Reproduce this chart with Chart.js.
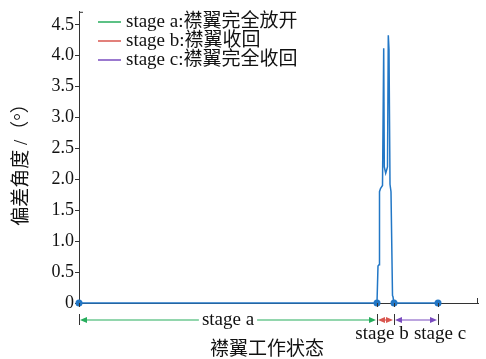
<!DOCTYPE html>
<html>
<head>
<meta charset="utf-8">
<script src="https://cdn.jsdelivr.net/npm/chart.js@4/dist/chart.umd.min.js"></script>
<style>
  body { margin: 0; background: #fff; }
  canvas { display: block; }
</style>
</head>
<body>
<canvas id="flapChart" width="486" height="359"></canvas>
<script>
// Data
const stageNames = ['stage a', 'stage b', 'stage c'];
const stageLegend = ['stage a:襟翼完全放开', 'stage b:襟翼收回', 'stage c:襟翼完全收回'];
const stageColors = ['#26ad5c', '#d9564f', '#7a4cbf'];
const stageBounds = [0, 298, 315, 359];
const timeValues  = [0, 298, 299, 300, 300.5, 301.5, 303.5, 304.7, 305.3, 306.7, 308.5, 309.3, 310, 311, 312, 313.5, 314, 315, 359];
const angleValues = [0, 0,   0.6, 0.62, 1.8, 1.85, 1.9,  4.12,  2.2,   2.1,   2.2,   4.33,  4.1, 1.92, 1.8, 0.12,  0.1, 0,   0];
const yTicks = [0, 0.5, 1.0, 1.5, 2.0, 2.5, 3.0, 3.5, 4.0, 4.5];

const serif = "'Liberation Serif', 'Noto Sans CJK SC', serif";
const blue = '#2277c6';
const axisColor = '#333';

const points = timeValues.map((t, i) => ({ x: t, y: angleValues[i] }));
const radii = timeValues.map(t => stageBounds.includes(t) ? 3.5 : 0);

// Extra drawing: axis end caps, stage arrows, legend, titles
const extras = {
  id: 'extras',
  afterDraw(chart) {
    const c = chart.ctx;
    const xs = chart.scales.x;
    const area = chart.chartArea;
    c.save();
    c.strokeStyle = axisColor;
    c.lineWidth = 1;
    // top cap of y axis, right cap of x axis
    c.beginPath();
    c.moveTo(area.left, area.top + 0.5); c.lineTo(area.left + 4, area.top + 0.5);
    c.moveTo(area.right - 0.5, area.bottom); c.lineTo(area.right - 0.5, area.bottom - 5);
    c.stroke();
    // x ticks at stage bounds
    c.beginPath();
    stageBounds.forEach(b => {
      const px = Math.round(xs.getPixelForValue(b)) + 0.5;
      c.moveTo(px, area.bottom); c.lineTo(px, area.bottom + 4);
      c.moveTo(px, 314); c.lineTo(px, 325);
    });
    c.stroke();

    // stage arrows
    const ay = 320;
    c.font = '19px ' + serif;
    c.textBaseline = 'middle';
    c.textAlign = 'center';
    for (let i = 0; i < 3; i++) {
      const x0 = xs.getPixelForValue(stageBounds[i]) + 1;
      const x1 = xs.getPixelForValue(stageBounds[i + 1]) - 1;
      c.strokeStyle = stageColors[i];
      c.fillStyle = stageColors[i];
      c.lineWidth = 1.2;
      c.beginPath();
      if (i === 0) {
        const mid = (x0 + x1) / 2;
        const half = c.measureText(stageNames[0]).width / 2 + 3;
        c.moveTo(x0 + 4, ay); c.lineTo(mid - half, ay);
        c.moveTo(mid + half, ay); c.lineTo(x1 - 4, ay);
      } else {
        c.moveTo(x0 + 4, ay); c.lineTo(x1 - 4, ay);
      }
      c.stroke();
      c.beginPath();
      c.moveTo(x0, ay); c.lineTo(x0 + 7, ay - 3); c.lineTo(x0 + 7, ay + 3); c.closePath();
      c.moveTo(x1, ay); c.lineTo(x1 - 7, ay - 3); c.lineTo(x1 - 7, ay + 3); c.closePath();
      c.fill();
    }
    c.fillStyle = '#111';
    c.fillText(stageNames[0], (xs.getPixelForValue(stageBounds[0]) + xs.getPixelForValue(stageBounds[1])) / 2, ay);
    c.fillText(stageNames[1], 382, 334);
    c.fillText(stageNames[2], 440, 334);

    // x title
    c.font = '19px ' + serif;
    c.fillText('襟翼工作状态', 267, 350);

    // y title
    c.save();
    c.translate(22, 160);
    c.rotate(-Math.PI / 2);
    c.fillText('偏差角度 /（°）', 0, 0);
    c.restore();

    // legend
    c.font = '19px ' + serif;
    c.textAlign = 'left';
    const rows = [22, 41, 60];
    stageLegend.forEach((txt, i) => {
      c.strokeStyle = stageColors[i];
      c.lineWidth = 1.5;
      c.beginPath();
      c.moveTo(98, rows[i]); c.lineTo(121, rows[i]);
      c.stroke();
      c.fillStyle = '#111';
      c.fillText(txt, 126, rows[i]);
    });
    c.restore();
  }
};

new Chart(document.getElementById('flapChart'), {
  type: 'line',
  data: {
    datasets: [{
      data: points,
      borderColor: blue,
      backgroundColor: blue,
      borderWidth: 1.5,
      pointRadius: radii,
      pointHoverRadius: radii,
      pointBorderWidth: 0,
      tension: 0,
      clip: false
    }]
  },
  options: {
    responsive: false,
    animation: false,
    layout: { padding: { top: 9, right: 8, left: 0, bottom: 0 } },
    plugins: { legend: { display: false }, tooltip: { enabled: false } },
    scales: {
      x: {
        type: 'linear',
        min: 0,
        max: 399,
        grid: { display: false },
        ticks: { display: false },
        border: { display: true, color: axisColor, width: 1 },
        afterFit(s) { s.height = 56; }
      },
      y: {
        min: 0,
        max: 4.71,
        afterBuildTicks(s) { s.ticks = yTicks.map(v => ({ value: v })); },
        ticks: {
          color: '#111',
          font: { family: serif, size: 18 },
          padding: 1,
          callback: v => v === 0 ? '0' : v.toFixed(1)
        },
        grid: { display: true, drawOnChartArea: false, tickLength: 4, color: axisColor },
        border: { display: true, color: axisColor, width: 1 },
        afterFit(s) { s.width = 79; }
      }
    }
  },
  plugins: [extras]
});
</script>
</body>
</html>
